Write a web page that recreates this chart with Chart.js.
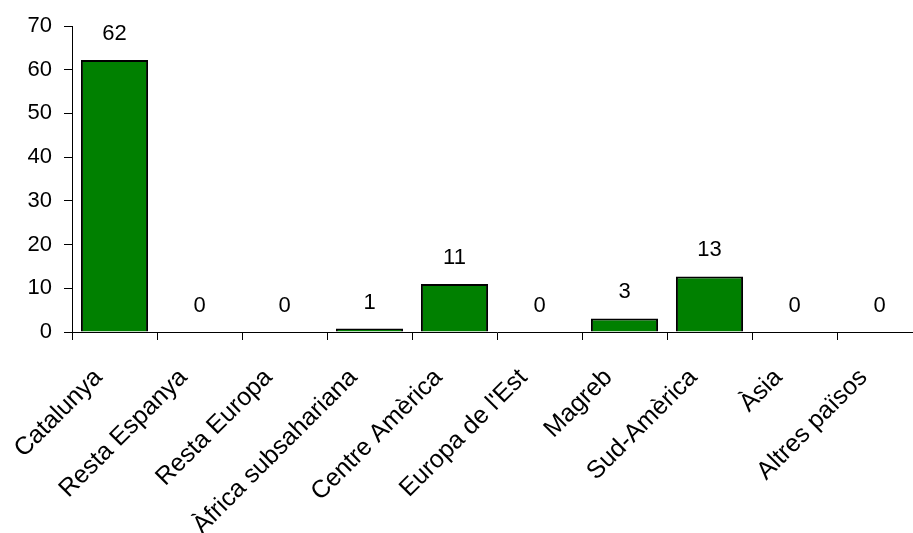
<!DOCTYPE html>
<html>
<head>
<meta charset="utf-8">
<script src="https://cdn.jsdelivr.net/npm/chart.js@4"></script>
<style>
  html, body { margin: 0; padding: 0; background: #fff; overflow: hidden; }
  #wrap { position: absolute; left: 0; top: 0; width: 930px; height: 533px; }
</style>
</head>
<body>
<div id="wrap"><canvas id="c" width="930" height="533"></canvas></div>
<script>
const categories = ["Catalunya", "Resta Espanya", "Resta Europa", "Àfrica subsahariana", "Centre Amèrica", "Europa de l'Est", "Magreb", "Sud-Amèrica", "Àsia", "Altres països"];
const values = [62.2, 0, 0, 0.8, 11.0, 0, 3.1, 12.7, 0, 0];
const yTicks = [0, 10, 20, 30, 40, 50, 60, 70];

const FONT = "'Liberation Sans', Arial, sans-serif";

const labelPlugin = {
  id: 'barLabels',
  afterDatasetsDraw(chart) {
    const ctx = chart.ctx;
    const meta = chart.getDatasetMeta(0);
    ctx.save();
    ctx.font = "22px " + FONT;
    ctx.fillStyle = "#000";
    ctx.textAlign = "center";
    ctx.textBaseline = "alphabetic";
    meta.data.forEach((bar, i) => {
      ctx.fillText(String(Math.round(values[i])), bar.x, bar.y - 20);
    });
    ctx.restore();
  }
};

new Chart(document.getElementById('c'), {
  type: 'bar',
  data: {
    labels: categories,
    datasets: [{
      data: values,
      backgroundColor: '#008000',
      borderColor: '#000000',
      borderWidth: 2,
      barPercentage: 0.79,
      categoryPercentage: 1.0
    }]
  },
  options: {
    responsive: false,
    animation: false,
    devicePixelRatio: 1,
    layout: { padding: { left: 0, right: 8, top: 26, bottom: 0 } },
    plugins: { legend: { display: false }, tooltip: { enabled: false } },
    scales: {
      x: {
        offset: true,
        grid: { display: true, drawOnChartArea: false, drawTicks: true, tickLength: 8, offset: true, color: '#000', lineWidth: 1 },
        border: { display: true, color: '#000', width: 1 },
        ticks: { color: '#000', font: { family: FONT, size: 25 }, minRotation: 45, maxRotation: 45, autoSkip: false, padding: 23, labelOffset: -16 },
        afterFit(scale) { scale.height = 201; }
      },
      y: {
        min: 0, max: 70,
        afterBuildTicks(scale) { scale.ticks = yTicks.map(v => ({ value: v })); },
        grid: { display: true, drawOnChartArea: false, drawTicks: true, tickLength: 8, color: '#000', lineWidth: 1 },
        border: { display: true, color: '#000', width: 1 },
        ticks: { color: '#000', font: { family: FONT, size: 22 }, padding: 12 },
        afterFit(scale) { scale.width = 72; }
      }
    }
  },
  plugins: [labelPlugin]
});
</script>
</body>
</html>
